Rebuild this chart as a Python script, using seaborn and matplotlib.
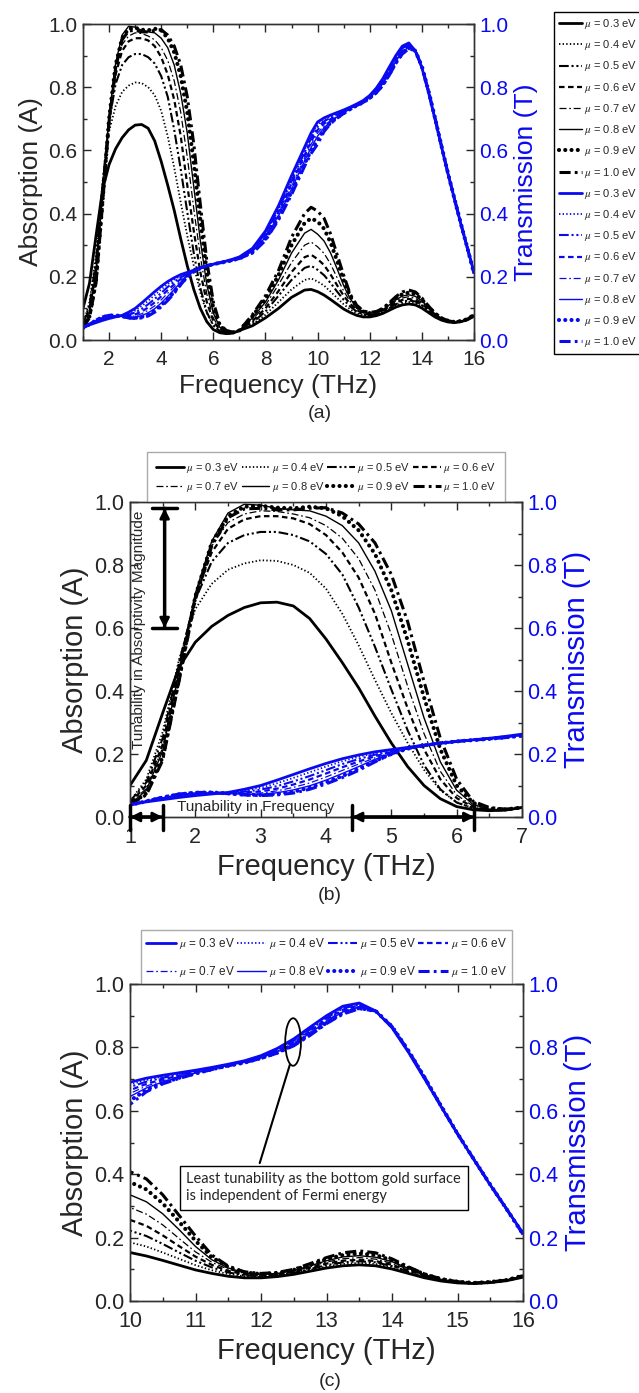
import numpy as np
import pandas as pd
import matplotlib
matplotlib.use("Agg")
import matplotlib.pyplot as plt
import seaborn as sns
from matplotlib.patches import Ellipse
from matplotlib.lines import Line2D
from matplotlib.ticker import MultipleLocator, FormatStrFormatter

# ---------------- data ----------------
freq = [1.0, 1.25, 1.5, 1.75, 2.0, 2.25, 2.5, 2.75, 3.0, 3.25, 3.5, 3.75, 4.0, 4.25, 4.5,
        4.75, 5.0, 5.25, 5.5, 5.75, 6.0, 6.25, 6.5, 6.75, 7.0,
        7.5, 8.0, 8.5, 9.0, 9.5, 9.75,
        10.0, 10.25, 10.5, 10.75, 11.0, 11.25, 11.5, 11.75, 12.0, 12.25, 12.5, 12.75, 13.0,
        13.25, 13.5, 13.75, 14.0, 14.25, 14.5, 14.75, 15.0, 15.25, 15.5, 15.75, 16.0]

mu_values = ["0.3", "0.4", "0.5", "0.6", "0.7", "0.8", "0.9", "1.0"]

abs_03 = [0.10, 0.18, 0.33, 0.475, 0.555, 0.605, 0.64, 0.665, 0.68, 0.682, 0.67, 0.63, 0.565, 0.49, 0.41,
          0.32, 0.235, 0.16, 0.10, 0.058, 0.033, 0.023, 0.02, 0.022, 0.03,
          0.045, 0.07, 0.10, 0.135, 0.158, 0.16,
          0.153, 0.142, 0.128, 0.113, 0.098, 0.087, 0.078, 0.073, 0.073, 0.077, 0.084, 0.094, 0.104,
          0.111, 0.114, 0.111, 0.101, 0.087, 0.073, 0.063, 0.057, 0.055, 0.058, 0.064, 0.075]
abs_04 = [0.05, 0.12, 0.27, 0.50, 0.66, 0.74, 0.785, 0.805, 0.815, 0.813, 0.80, 0.775, 0.725, 0.645, 0.545,
          0.435, 0.33, 0.235, 0.15, 0.085, 0.047, 0.028, 0.021, 0.022, 0.03,
          0.05, 0.08, 0.12, 0.16, 0.19, 0.195,
          0.185, 0.172, 0.153, 0.133, 0.113, 0.097, 0.085, 0.078, 0.076, 0.079, 0.087, 0.098, 0.109,
          0.117, 0.12, 0.117, 0.106, 0.09, 0.075, 0.064, 0.058, 0.055, 0.058, 0.065, 0.076]
abs_05 = [0.05, 0.11, 0.25, 0.49, 0.69, 0.81, 0.87, 0.895, 0.905, 0.905, 0.895, 0.875, 0.835, 0.77, 0.665,
          0.54, 0.405, 0.275, 0.165, 0.088, 0.046, 0.028, 0.02, 0.022, 0.03,
          0.055, 0.09, 0.14, 0.19, 0.228, 0.235,
          0.222, 0.205, 0.18, 0.153, 0.127, 0.106, 0.09, 0.081, 0.078, 0.081, 0.089, 0.101, 0.113,
          0.122, 0.125, 0.122, 0.11, 0.093, 0.077, 0.065, 0.058, 0.056, 0.059, 0.065, 0.077]
abs_06 = [0.045, 0.10, 0.23, 0.48, 0.70, 0.84, 0.915, 0.945, 0.955, 0.955, 0.948, 0.93, 0.895, 0.84, 0.76,
          0.645, 0.49, 0.345, 0.215, 0.12, 0.06, 0.032, 0.022, 0.022, 0.03,
          0.06, 0.10, 0.155, 0.215, 0.262, 0.27,
          0.256, 0.237, 0.207, 0.173, 0.14, 0.114, 0.095, 0.084, 0.08, 0.083, 0.092, 0.105, 0.118,
          0.127, 0.13, 0.126, 0.114, 0.097, 0.079, 0.066, 0.059, 0.056, 0.059, 0.065, 0.077]
abs_07 = [0.045, 0.09, 0.22, 0.47, 0.70, 0.86, 0.935, 0.962, 0.972, 0.97, 0.962, 0.95, 0.925, 0.885, 0.82,
          0.72, 0.58, 0.415, 0.265, 0.145, 0.07, 0.035, 0.023, 0.022, 0.03,
          0.065, 0.11, 0.175, 0.245, 0.30, 0.31,
          0.295, 0.274, 0.24, 0.197, 0.155, 0.122, 0.1, 0.087, 0.082, 0.085, 0.094, 0.108, 0.123,
          0.133, 0.137, 0.132, 0.119, 0.1, 0.081, 0.067, 0.06, 0.056, 0.059, 0.066, 0.078]
abs_08 = [0.04, 0.085, 0.21, 0.46, 0.71, 0.875, 0.965, 0.993, 0.99, 0.98, 0.975, 0.972, 0.955, 0.925, 0.87,
          0.78, 0.655, 0.485, 0.315, 0.175, 0.085, 0.04, 0.025, 0.022, 0.03,
          0.07, 0.12, 0.19, 0.275, 0.338, 0.35,
          0.335, 0.313, 0.275, 0.225, 0.172, 0.13, 0.104, 0.089, 0.084, 0.087, 0.096, 0.111, 0.127,
          0.139, 0.143, 0.138, 0.124, 0.103, 0.083, 0.068, 0.06, 0.056, 0.059, 0.066, 0.079]
abs_09 = [0.04, 0.075, 0.19, 0.44, 0.70, 0.87, 0.955, 0.985, 0.988, 0.982, 0.98, 0.985, 0.98, 0.955, 0.91,
          0.835, 0.72, 0.56, 0.38, 0.215, 0.10, 0.045, 0.027, 0.024, 0.03,
          0.075, 0.13, 0.205, 0.30, 0.37, 0.385,
          0.375, 0.352, 0.308, 0.25, 0.19, 0.138, 0.107, 0.09, 0.085, 0.088, 0.098, 0.115, 0.132,
          0.145, 0.15, 0.145, 0.128, 0.105, 0.084, 0.069, 0.061, 0.057, 0.06, 0.066, 0.08]
abs_10 = [0.04, 0.07, 0.18, 0.43, 0.69, 0.86, 0.95, 0.978, 0.98, 0.975, 0.975, 0.98, 0.982, 0.965, 0.93,
          0.87, 0.77, 0.62, 0.43, 0.25, 0.12, 0.05, 0.03, 0.025, 0.03,
          0.08, 0.14, 0.22, 0.325, 0.40, 0.42,
          0.408, 0.385, 0.335, 0.27, 0.205, 0.145, 0.11, 0.092, 0.087, 0.09, 0.10, 0.118, 0.137,
          0.152, 0.158, 0.152, 0.133, 0.108, 0.085, 0.07, 0.061, 0.057, 0.06, 0.066, 0.08]

tr_03 = [0.04, 0.048, 0.055, 0.062, 0.068, 0.073, 0.078, 0.088, 0.10, 0.117, 0.135, 0.153, 0.17, 0.185, 0.197,
         0.207, 0.214, 0.221, 0.228, 0.234, 0.24, 0.245, 0.25, 0.256, 0.263,
         0.29, 0.345, 0.425, 0.52, 0.61, 0.655,
         0.69, 0.703, 0.712, 0.72, 0.728, 0.737, 0.747, 0.758, 0.774, 0.797, 0.827, 0.864, 0.9,
         0.93, 0.94, 0.915, 0.862, 0.785, 0.7, 0.613, 0.527, 0.446, 0.366, 0.29, 0.214]
tr_04 = [0.04, 0.049, 0.057, 0.065, 0.07, 0.074, 0.077, 0.084, 0.093, 0.107, 0.124, 0.142, 0.16, 0.177, 0.191,
         0.203, 0.212, 0.22, 0.228, 0.234, 0.24, 0.245, 0.25, 0.255, 0.262,
         0.288, 0.341, 0.419, 0.512, 0.602, 0.646,
         0.683, 0.697, 0.708, 0.717, 0.726, 0.736, 0.746, 0.757, 0.773, 0.795, 0.824, 0.86, 0.897,
         0.927, 0.938, 0.915, 0.863, 0.786, 0.701, 0.613, 0.527, 0.446, 0.366, 0.29, 0.213]
tr_05 = [0.04, 0.049, 0.058, 0.067, 0.072, 0.075, 0.076, 0.08, 0.087, 0.098, 0.113, 0.13, 0.149, 0.168, 0.184,
         0.198, 0.209, 0.219, 0.227, 0.234, 0.24, 0.245, 0.25, 0.255, 0.261,
         0.286, 0.337, 0.413, 0.503, 0.594, 0.638,
         0.675, 0.692, 0.704, 0.714, 0.724, 0.735, 0.745, 0.756, 0.771, 0.792, 0.821, 0.856, 0.893,
         0.923, 0.935, 0.915, 0.864, 0.787, 0.702, 0.614, 0.527, 0.446, 0.366, 0.29, 0.213]
tr_06 = [0.039, 0.049, 0.059, 0.068, 0.074, 0.076, 0.076, 0.077, 0.081, 0.09, 0.103, 0.119, 0.138, 0.158, 0.176,
         0.193, 0.206, 0.218, 0.227, 0.234, 0.24, 0.245, 0.249, 0.254, 0.26,
         0.284, 0.333, 0.406, 0.495, 0.585, 0.628,
         0.665, 0.685, 0.699, 0.711, 0.722, 0.734, 0.744, 0.755, 0.77, 0.79, 0.817, 0.852, 0.889,
         0.919, 0.932, 0.915, 0.864, 0.788, 0.703, 0.614, 0.527, 0.446, 0.366, 0.29, 0.212]
tr_07 = [0.039, 0.05, 0.06, 0.07, 0.075, 0.077, 0.075, 0.074, 0.076, 0.083, 0.094, 0.108, 0.127, 0.148, 0.168,
         0.188, 0.204, 0.217, 0.227, 0.234, 0.24, 0.245, 0.249, 0.254, 0.26,
         0.282, 0.329, 0.4, 0.486, 0.576, 0.619,
         0.655, 0.678, 0.695, 0.708, 0.72, 0.733, 0.744, 0.754, 0.769, 0.788, 0.814, 0.848, 0.885,
         0.915, 0.929, 0.915, 0.865, 0.788, 0.703, 0.614, 0.527, 0.446, 0.366, 0.29, 0.212]
tr_08 = [0.038, 0.05, 0.061, 0.071, 0.076, 0.077, 0.075, 0.072, 0.072, 0.077, 0.086, 0.099, 0.117, 0.138, 0.16,
         0.183, 0.202, 0.217, 0.227, 0.234, 0.24, 0.244, 0.249, 0.253, 0.259,
         0.28, 0.325, 0.393, 0.477, 0.567, 0.609,
         0.645, 0.672, 0.691, 0.706, 0.719, 0.732, 0.743, 0.753, 0.767, 0.786, 0.811, 0.845, 0.882,
         0.912, 0.927, 0.915, 0.865, 0.789, 0.704, 0.615, 0.528, 0.447, 0.367, 0.29, 0.211]
tr_09 = [0.038, 0.05, 0.062, 0.072, 0.077, 0.078, 0.075, 0.071, 0.07, 0.073, 0.08, 0.093, 0.11, 0.13, 0.153,
         0.178, 0.2, 0.217, 0.227, 0.234, 0.24, 0.244, 0.248, 0.253, 0.258,
         0.278, 0.32, 0.387, 0.469, 0.558, 0.6,
         0.632, 0.666, 0.688, 0.704, 0.718, 0.731, 0.742, 0.752, 0.766, 0.784, 0.808, 0.841, 0.878,
         0.908, 0.924, 0.915, 0.866, 0.79, 0.704, 0.615, 0.528, 0.447, 0.367, 0.29, 0.211]
tr_10 = [0.038, 0.05, 0.063, 0.073, 0.078, 0.078, 0.074, 0.07, 0.068, 0.07, 0.076, 0.088, 0.105, 0.125, 0.148,
         0.175, 0.2, 0.218, 0.228, 0.235, 0.24, 0.244, 0.248, 0.252, 0.258,
         0.275, 0.315, 0.38, 0.46, 0.55, 0.59,
         0.62, 0.66, 0.685, 0.702, 0.717, 0.73, 0.742, 0.752, 0.765, 0.782, 0.805, 0.838, 0.875,
         0.905, 0.922, 0.915, 0.866, 0.79, 0.705, 0.615, 0.528, 0.447, 0.367, 0.29, 0.21]

absorption = dict(zip(mu_values, [abs_03, abs_04, abs_05, abs_06, abs_07, abs_08, abs_09, abs_10]))
transmission = dict(zip(mu_values, [tr_03, tr_04, tr_05, tr_06, tr_07, tr_08, tr_09, tr_10]))
for k in mu_values:
    assert len(absorption[k]) == len(freq) and len(transmission[k]) == len(freq), k

# ---------------- styling ----------------
sns.set_style("ticks")
plt.rcParams["font.family"] = ["Liberation Sans", "DejaVu Sans"]
plt.rcParams["mathtext.fontset"] = "stix"
plt.rcParams["lines.scale_dashes"] = False
plt.rcParams["axes.edgecolor"] = "#333333"
plt.rcParams["axes.linewidth"] = 1.0

BLUE = "#0a0af0"
styles = {
    "0.3": dict(ls="-", lw=2.0),
    "0.4": dict(ls=(0, (1.0, 1.6)), lw=1.3),
    "0.5": dict(ls=(0, (7, 2, 1.5, 2, 1.5, 2)), lw=1.5),
    "0.6": dict(ls=(0, (4, 2.5)), lw=1.6),
    "0.7": dict(ls=(0, (5, 2, 1.2, 2)), lw=0.9),
    "0.8": dict(ls="-", lw=1.0),
    "0.9": dict(ls=(0, (0.01, 4.5)), lw=3.0, dash_capstyle="round"),
    "1.0": dict(ls=(0, (8, 3, 2, 3)), lw=2.2),
}
labels = [r"$\mu$ = %s eV" % m for m in mu_values]

W, H = 639, 1393
fig = plt.figure(figsize=(W / 100, H / 100), dpi=100)


def rect(x0, y0, x1, y1):
    return [x0 / W, 1 - y1 / H, (x1 - x0) / W, (y1 - y0) / H]


def panel(r, xlim, major, minor, label_fs, tick_fs):
    ax = fig.add_axes(r)
    ax2 = ax.twinx()
    for m in mu_values:
        sns.lineplot(x=freq, y=absorption[m], ax=ax, color="black", errorbar=None, **styles[m])
        sns.lineplot(x=freq, y=transmission[m], ax=ax2, color=BLUE, errorbar=None, **styles[m])
    ax.set_xlim(*xlim)
    ax.set_ylim(0, 1)
    ax2.set_ylim(0, 1)
    ax.xaxis.set_major_locator(MultipleLocator(major))
    ax.xaxis.set_minor_locator(MultipleLocator(minor))
    for a in (ax, ax2):
        a.yaxis.set_major_locator(MultipleLocator(0.2))
        a.yaxis.set_minor_locator(MultipleLocator(0.1))
        a.yaxis.set_major_formatter(FormatStrFormatter("%.1f"))
    ax.tick_params(which="major", direction="in", length=6, width=1, labelsize=tick_fs,
                   top=True, right=False, pad=4)
    ax.tick_params(axis="x", which="major", pad=7)
    ax.tick_params(which="minor", direction="in", length=3, width=1, top=True, right=False)
    ax2.tick_params(axis="y", which="major", direction="in", length=6, width=1,
                    labelsize=tick_fs, labelcolor=BLUE, right=True, pad=4)
    ax2.tick_params(axis="y", which="minor", direction="in", length=3, width=1, right=True)
    ax.set_xlabel("Frequency (THz)", fontsize=label_fs, labelpad=4)
    ax.set_ylabel("Absorption (A)", fontsize=label_fs, labelpad=4)
    ax2.set_ylabel("Transmission (T)", fontsize=label_fs, color=BLUE, labelpad=4)
    return ax, ax2


def handles(color):
    return [Line2D([0], [0], color=color, **styles[m]) for m in mu_values]


# ---------------- panel (a) ----------------
axA, axA2 = panel(rect(83, 24, 474, 340), (1, 16), 2, 1, 19, 15)
fig.legend(handles("black") + handles(BLUE), labels + labels, loc="upper left",
           bbox_to_anchor=(554 / W, 1 - 12 / H), fontsize=8, labelspacing=0.65,
           handlelength=2.1, handletextpad=0.15, borderpad=0.45, borderaxespad=0,
           frameon=True, fancybox=False, edgecolor="black", framealpha=1)
fig.text(0.5, 1 - 414 / H, "(a)", ha="center", va="center", fontsize=14)

# ---------------- panel (b) ----------------
axB, axB2 = panel(rect(130, 502, 522, 817), (1, 7), 1, 0.5, 21, 15.5)
order = [0, 4, 1, 5, 2, 6, 3, 7]
hb = handles("black")
axB.legend([hb[i] for i in order], [labels[i] for i in order], ncol=4, loc="lower center",
           bbox_to_anchor=(0.5, 1.0), fontsize=8, labelspacing=0.45, handlelength=2.5,
           handletextpad=0.2, columnspacing=0.25, borderpad=0.75, borderaxespad=0,
           frameon=True, fancybox=False, edgecolor="#aaaaaa", framealpha=1)
arrow_heads = dict(arrowstyle="<|-|>", lw=2.0, color="black", mutation_scale=14, shrinkA=0, shrinkB=0)
arrow_bars = dict(arrowstyle="|-|, widthA=0.45, widthB=0.45", lw=2.5, color="black",
                  mutation_scale=20, shrinkA=0, shrinkB=0)
for props in (arrow_heads, arrow_bars):
    axB2.annotate("", xy=(1.53, 0.60), xytext=(1.53, 0.98), arrowprops=props, annotation_clip=False)
    axB2.annotate("", xy=(1.5, 0.0), xytext=(1.0, 0.0), arrowprops=props, annotation_clip=False)
    axB2.annotate("", xy=(6.27, 0.0), xytext=(4.4, 0.0), arrowprops=props, annotation_clip=False)
axB2.text(1.14, 0.595, "Tunability in Absorptivity Magnitude", rotation=90, ha="center",
          va="center", fontsize=11)
axB2.text(1.72, 0.033, "Tunability in Frequency", ha="left", va="center", fontsize=11)
fig.text(0.516, 1 - 896 / H, "(b)", ha="center", va="center", fontsize=14)

# ---------------- panel (c) ----------------
axC, axC2 = panel(rect(130, 984, 523, 1301), (10, 16), 1, 0.5, 21, 15.5)
hc = handles(BLUE)
axC.legend([hc[i] for i in order], [labels[i] for i in order], ncol=4, loc="lower center",
           bbox_to_anchor=(0.5, 1.0), fontsize=8.5, labelspacing=1.1, handlelength=2.5,
           handletextpad=0.25, columnspacing=0.2, borderpad=0.45, borderaxespad=0,
           frameon=True, fancybox=False, edgecolor="#aaaaaa", framealpha=1)
axC2.add_patch(Ellipse((12.49, 0.817), width=0.24, height=0.15, fill=False,
                       edgecolor="black", lw=1.3, zorder=5))
axC2.annotate("", xy=(12.44, 0.745), xytext=(11.98, 0.435),
              arrowprops=dict(arrowstyle="-", lw=1.5, color="black", shrinkA=0, shrinkB=0))
axC2.text(10.86, 0.357, "Least tunability as the bottom gold surface\nis independent of Fermi energy",
          ha="left", va="center", fontsize=10.5, family=["Lato", "DejaVu Sans"], linespacing=1.3,
          bbox=dict(boxstyle="square,pad=0.45", facecolor="white", edgecolor="black", lw=1), zorder=6)
fig.text(0.516, 1 - 1382 / H, "(c)", ha="center", va="center", fontsize=14)

fig.savefig("out.png", dpi=100)
